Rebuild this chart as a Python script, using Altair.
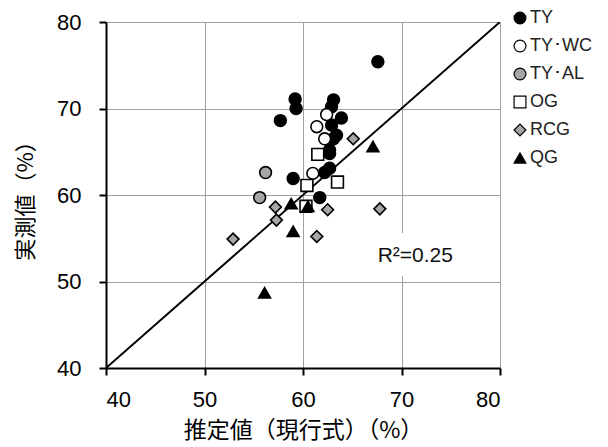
import altair as alt
import pandas as pd

series = ["TY", "TY･WC", "TY･AL", "OG", "RCG", "QG"]

ty_x = [59.2, 59.3, 57.7, 63.1, 62.9, 63.9, 62.9, 63.4, 63.1, 62.7, 62.7, 62.2, 62.7, 59.0, 61.7, 67.6]
ty_y = [71.1, 70.0, 68.6, 71.0, 70.2, 68.9, 68.1, 66.9, 66.5, 65.2, 64.8, 62.6, 63.1, 61.9, 59.7, 75.4]
wc_x = [62.4, 61.4, 62.2, 61.0]
wc_y = [69.3, 67.9, 66.5, 62.5]
al_x = [56.2, 55.6]
al_y = [62.6, 59.7]
og_x = [61.5, 60.4, 63.5, 60.3]
og_y = [64.7, 61.1, 61.5, 58.7]
rcg_x = [65.1, 57.2, 57.3, 52.9, 61.4, 62.5, 67.8]
rcg_y = [66.5, 58.6, 57.1, 54.9, 55.2, 58.3, 58.4]
qg_x = [67.1, 58.8, 60.5, 59.0, 56.1]
qg_y = [65.6, 59.0, 58.7, 55.8, 48.7]

xs = [ty_x, wc_x, al_x, og_x, rcg_x, qg_x]
ys = [ty_y, wc_y, al_y, og_y, rcg_y, qg_y]

rows = []
for name, sx, sy in zip(series, xs, ys):
    for a, b in zip(sx, sy):
        rows.append({"x": a, "y": b, "group": name})
pts = pd.DataFrame(rows)

line_df = pd.DataFrame({"x": [40, 80], "y": [40, 80]})

r2_label = "R²=0.25"
r2_pos = {"x": 71.4, "y": 53.0}
r2_box = {"x": 66.9, "x2": 76.0, "y": 50.6, "y2": 55.6}

FONT = "Liberation Sans"
JFONT = "Noto Sans CJK JP"

xscale = alt.Scale(domain=[40, 80], nice=False, zero=False)
yscale = alt.Scale(domain=[40, 80], nice=False, zero=False)

xaxis = alt.Axis(values=[40, 50, 60, 70, 80], title="推定値（現行式）（%）", format="d",
                 titleFontSize=23, titlePadding=9)
yaxis = alt.Axis(values=[40, 50, 60, 70, 80], title="実測値（%）", format="d",
                 titleFontSize=22, titlePadding=19)

base_line = alt.Chart(line_df).mark_line(color="black", strokeWidth=2, clip=True).encode(
    x=alt.X("x:Q", scale=xscale, axis=xaxis),
    y=alt.Y("y:Q", scale=yscale, axis=yaxis),
)

box = alt.Chart(pd.DataFrame([r2_box])).mark_rect(color="white").encode(
    x="x:Q", x2="x2:Q", y="y:Q", y2="y2:Q"
)

txt = alt.Chart(pd.DataFrame([{**r2_pos, "t": r2_label}])).mark_text(
    font=FONT, fontSize=21, color="#111111"
).encode(x="x:Q", y="y:Q", text="t:N")

points = alt.Chart(pts).mark_point(
    filled=True, strokeWidth=1.6, opacity=1
).encode(
    x="x:Q",
    y="y:Q",
    shape=alt.Shape(
        "group:N",
        scale=alt.Scale(domain=series, range=["circle", "circle", "circle", "square", "diamond", "triangle-up"]),
        title=None,
    ),
    fill=alt.Fill(
        "group:N",
        scale=alt.Scale(domain=series, range=["#000000", "#ffffff", "#a6a6a6", "#ffffff", "#a6a6a6", "#000000"]),
        title=None,
    ),
    stroke=alt.Stroke(
        "group:N",
        scale=alt.Scale(domain=series, range=["#000000"] * 6),
        title=None,
    ),
    size=alt.Size(
        "group:N",
        scale=alt.Scale(domain=series, range=[140, 140, 140, 150, 100, 150]),
        title=None,
    ),
)

chart = alt.layer(base_line, box, txt, points).properties(
    width=394,
    height=346,
    autosize=alt.AutoSizeParams(type="none"),
    padding={"left": 98, "top": 14, "right": 100, "bottom": 78},
).configure_view(stroke=None).configure_axis(
    grid=True,
    gridColor="#a0a0a0",
    gridWidth=1,
    domainColor="black",
    domainWidth=2,
    tickColor="black",
    tickWidth=2,
    tickSize=7,
    labelFont=FONT,
    labelFontSize=22,
    labelColor="#000000",
    titleFont=JFONT,
    titleFontWeight="normal",
    titleColor="#000000",
).configure_axisX(labelPadding=14).configure_axisY(labelPadding=18
).configure_legend(
    orient="none",
    legendX=405,
    legendY=-13,
    padding=0,
    rowPadding=10,
    labelFont=FONT,
    labelFontSize=18,
    labelColor="#222222",
    labelOffset=1,
    symbolStrokeWidth=1.2,
)

chart.save("out.html", embed_options={"renderer": "svg", "actions": False})
